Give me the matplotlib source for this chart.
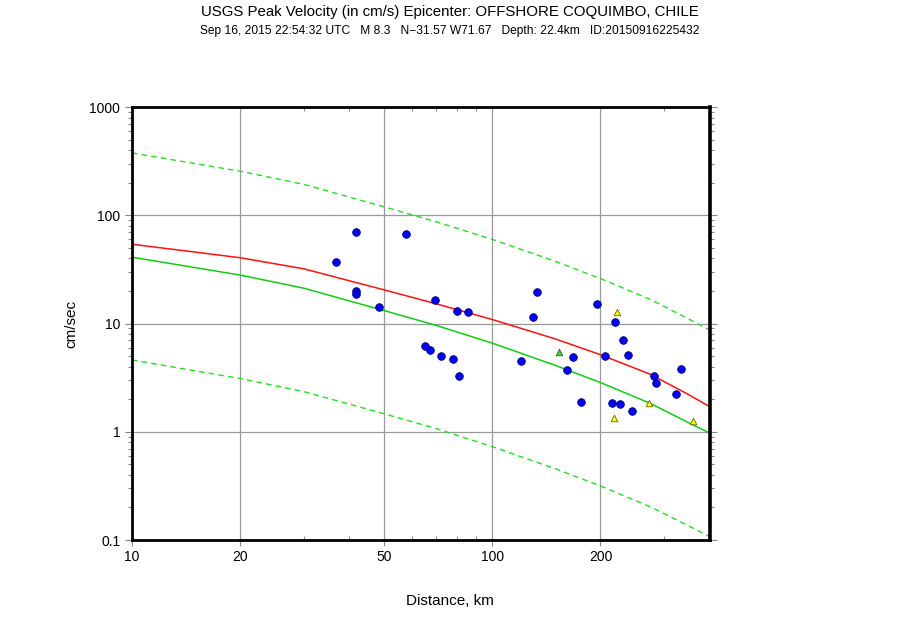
import matplotlib
matplotlib.use('Agg')
import matplotlib.pyplot as plt
import matplotlib.ticker as mt

plt.rcParams['font.family'] = ['Liberation Sans', 'DejaVu Sans']

# curves (distance km, cm/sec)
curve_dist = [10, 20, 30, 50, 70, 100, 150, 200, 275, 350, 403]
median_pgv = [54, 40.5, 32, 20.5, 15.2, 10.9, 7.2, 5.15, 3.4, 2.22, 1.70]
fit_pgv = [41, 28, 21.2, 13.2, 9.6, 6.6, 4.1, 2.85, 1.83, 1.22, 0.97]
fit_upper = [376, 255, 193, 120, 87, 60, 37.5, 26, 16.7, 11.1, 8.7]
fit_lower = [4.6, 3.1, 2.35, 1.47, 1.07, 0.73, 0.455, 0.316, 0.203, 0.136, 0.107]

# seismic stations
sta_dist = [41.9, 57.7, 36.9, 42.0, 41.9, 48.6, 69.6, 79.8, 85.7, 65.3, 67.2,
            72.3, 78.0, 81.0, 120.5, 133.6, 130.3, 196.2, 219.2, 231.7, 238.8,
            206.4, 167.8, 161.6, 177.0, 215.1, 226.4, 245.1, 281.4, 286.0,
            335.7, 324.6]
sta_pgv = [69.6, 67.6, 36.7, 20.1, 18.9, 14.2, 16.5, 13.0, 12.9, 6.2, 5.7,
           5.0, 4.67, 3.3, 4.48, 19.7, 11.6, 15.0, 10.3, 7.04, 5.08,
           5.0, 4.94, 3.72, 1.87, 1.86, 1.81, 1.55, 3.27, 2.80,
           3.77, 2.24]

# "did you feel it" intensity reports
dyfi_dist = [222.5, 273.6, 217.8, 362.5]
dyfi_pgv = [12.7, 1.83, 1.35, 1.25]
cdi_dist = [153.1]
cdi_pgv = [5.42]

fig = plt.figure(figsize=(9, 6.2), dpi=100)
ax = fig.add_axes([0.1467, 0.129, 0.6422, 0.6984])

ax.plot(curve_dist, fit_upper, color='#22dd22', lw=1, ls=(0, (4, 3)))
ax.plot(curve_dist, fit_lower, color='#22dd22', lw=1, ls=(0, (4, 3)))
ax.plot(curve_dist, median_pgv, color='#ff1111', lw=1.1)
ax.plot(curve_dist, fit_pgv, color='#11cc11', lw=1.1)
ax.scatter(sta_dist, sta_pgv, s=30, c='#0000ff', edgecolors='#000066',
           linewidths=0.6, zorder=5)
ax.scatter(dyfi_dist, dyfi_pgv, s=22, marker='^', c='#ffff00',
           edgecolors='#666600', linewidths=0.6, zorder=5)
ax.scatter(cdi_dist, cdi_pgv, s=22, marker='^', c='#44cc44',
           edgecolors='#226622', linewidths=0.6, zorder=5)

ax.set_xscale('log')
ax.set_yscale('log')
ax.set_xlim(10, 403)
ax.set_ylim(0.1, 1000)

# grid
for gx in [20, 50, 100, 200]:
    ax.axvline(gx, color='#999999', lw=0.9, zorder=0)
for gy in [1, 10, 100]:
    ax.axhline(gy, color='#999999', lw=0.9, zorder=0)

# ticks
ax.xaxis.set_major_locator(mt.FixedLocator([10, 20, 50, 100, 200]))
ax.xaxis.set_major_formatter(mt.FixedFormatter(['10', '20', '50', '100', '200']))
ax.xaxis.set_minor_locator(mt.FixedLocator([30, 40, 60, 70, 80, 90, 300, 400]))
ax.xaxis.set_minor_formatter(mt.NullFormatter())
ax.yaxis.set_major_locator(mt.FixedLocator([0.1, 1, 10, 100, 1000]))
ax.yaxis.set_major_formatter(mt.FixedFormatter(['0.1', '1', '10', '100', '1000']))
ax.yaxis.set_minor_locator(mt.LogLocator(base=10, subs=range(2, 10)))
ax.yaxis.set_minor_formatter(mt.NullFormatter())
ax.tick_params(axis='y', which='major', direction='out', length=5, width=0.8,
               color='#888888', labelsize=10, right=True)
ax.tick_params(axis='y', which='minor', direction='out', length=3, width=0.8,
               color='#888888', right=True)
ax.tick_params(axis='x', which='major', direction='out', length=4, width=0.8,
               color='#888888', labelsize=10)
ax.tick_params(axis='x', which='minor', direction='in', length=3, width=0.8,
               color='#888888', top=True)

for side in ['left', 'bottom', 'top']:
    ax.spines[side].set_linewidth(2)
ax.spines['right'].set_linewidth(2.6)

ax.set_xlabel('Distance, km', fontsize=11)
ax.xaxis.set_label_coords(0.55, -0.125)
ax.set_ylabel('cm/sec', fontsize=11, labelpad=8)

fig.text(0.5, 0.981, 'USGS Peak Velocity (in cm/s) Epicenter: OFFSHORE COQUIMBO, CHILE',
         ha='center', va='center', fontsize=10.8)
fig.text(0.5, 0.95, 'Sep 16, 2015 22:54:32 UTC   M 8.3   N\u221231.57 W71.67   '
         'Depth: 22.4km   ID:20150916225432',
         ha='center', va='center', fontsize=8.65)

plt.savefig('out.png', dpi=100)
